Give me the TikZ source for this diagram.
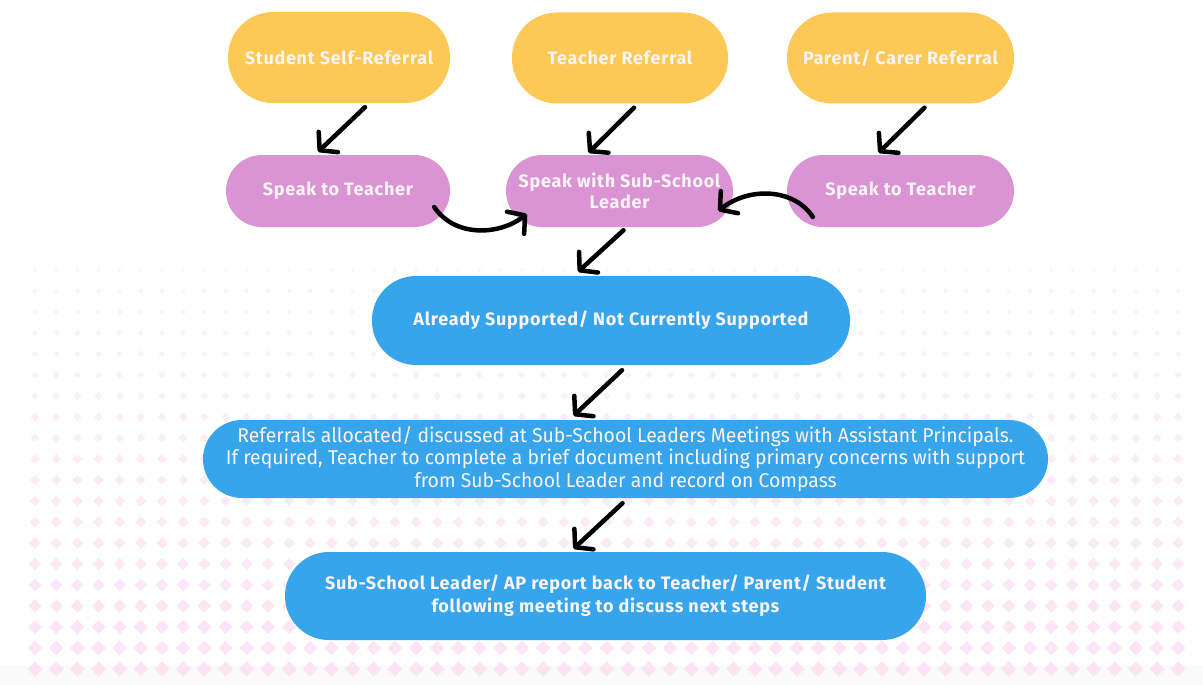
\documentclass[tikz,border=0pt]{standalone}
\usepackage{fontspec}
\setmainfont{Fira Sans}
\newfontfamily\hdfont{Fira Sans}[LetterSpace=4]
\newfontfamily\condfont{Fira Sans}[FakeStretch=0.97]
\usetikzlibrary{arrows.meta,calc}
\definecolor{ylw}{HTML}{FCC957}
\definecolor{pnk}{HTML}{DA93D3}
\definecolor{blu}{HTML}{36A5EB}
\definecolor{txt}{HTML}{FBF4F6}
\definecolor{dotc}{HTML}{FCE4F5}
\begin{document}
\begin{tikzpicture}[x=1pt,y=-1pt,
  pill/.style={rectangle,minimum width=#1,align=center,text=txt,inner sep=0pt},
  ybox/.style={pill=#1,fill=ylw,minimum height=91pt,rounded corners=45pt,font=\hdfont\bfseries\fontsize{18}{21}\selectfont},
  pbox/.style={pill=#1,fill=pnk,minimum height=72pt,rounded corners=36pt,font=\hdfont\bfseries\fontsize{18}{21}\selectfont},
  bbox/.style={pill=#1,fill=blu,rounded corners=39pt},
  arr/.style={line width=4.5pt,black,line cap=round,line join=round,-{Straight Barb[length=12pt,width=28pt,round]}}]
\useasboundingbox (0,0) rectangle (1203,685);
\fill[white] (0,0) rectangle (1203,685);
\fill[black!2] (0,665) rectangle (1203,685);
% dotted background
\foreach \r in {0,...,19}{
  \pgfmathsetmacro{\h}{2+5.5*\r/19}
  \pgfmathsetmacro{\cc}{45+55*\r/19}
  \foreach \c in {0,...,54}{
    \fill[dotc!\cc!white] (35+21.17*\c,270+21*\r) +(0,-\h) -- +(\h,0) -- +(0,\h) -- +(-\h,0) -- cycle;
  }
}
% nodes
\node[ybox=222pt] (y1) at (339,57.5) {Student Self-Referral};
\node[ybox=216pt] (y2) at (620,58) {Teacher Referral};
\node[ybox=227pt] (y3) at (900.5,58) {Parent/ Carer Referral};
\node[pbox=224pt] (p1) at (338,191) {Speak to Teacher};
\node[pbox=227pt] (p2) at (619.5,191) {Speak with Sub-School\\Leader};
\node[pbox=227pt] (p3) at (900.5,191) {Speak to Teacher};
\node[bbox=478pt,minimum height=89pt,rounded corners=44pt,font=\hdfont\bfseries\fontsize{18}{21}\selectfont] (b1) at (611,320.5) {Already Supported/ Not Currently Supported};
\node[bbox=845pt,minimum height=78pt,font=\condfont\fontsize{20}{22.5}\selectfont] (b2) at (625.5,459) {Referrals allocated/ discussed at Sub-School Leaders Meetings with Assistant Principals.\\If required, Teacher to complete a brief document including primary concerns with support\\from Sub-School Leader and record on Compass};
\node[bbox=641pt,minimum height=88pt,rounded corners=44pt,font=\hdfont\bfseries\fontsize{18}{23}\selectfont] (b3) at (605.5,596) {Sub-School Leader/ AP report back to Teacher/ Parent/ Student\\following meeting to discuss next steps};
% arrows
\draw[arr] ($(y1.south)+(26,4)$) -- ($(p1.north)+(-20,-3)$);
\draw[arr] ($(y2.south)+(14,4)$) -- ($(p2.north)+(-31,-2)$);
\draw[arr] ($(y3.south)+(24,4)$) -- ($(p3.north)+(-22,-2)$);
\draw[arr] ($(p1.east)+(-16,16)$) .. controls ($(p1.east)+(5,47)$) and ($(p2.west)+(-6,44)$) .. ($(p2.west)+(21,23)$);
\draw[arr] ($(p3.west)+(26,26)$) .. controls ($(p3.west)+(8,-2)$) and ($(p2.east)+(17,-5)$) .. ($(p2.east)+(-15,20)$);
\draw[arr] ($(p2.south)+(4,3)$) -- ($(b1.north)+(-33,-4)$);
\draw[arr] ($(b1.south)+(11,5)$) -- ($(b2.north)+(-52,-4)$);
\draw[arr] ($(b2.south)+(-3,5)$) -- ($(b3.north)+(-32,-3)$);
\end{tikzpicture}
\end{document}
